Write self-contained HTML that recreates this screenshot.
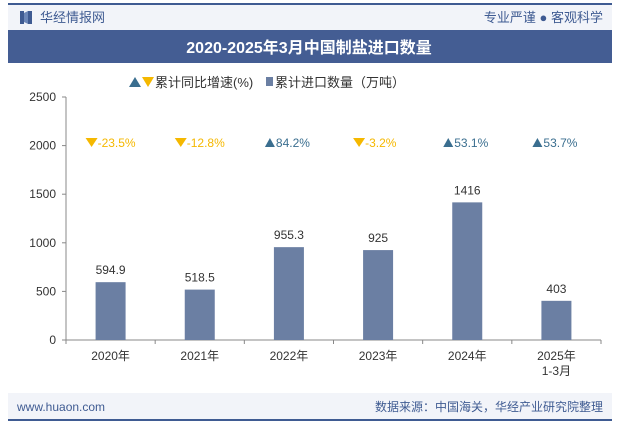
<!DOCTYPE html>
<html><head><meta charset="utf-8"><style>
body{margin:0;width:617px;height:424px;background:#fff;font-family:"Liberation Sans","Noto Sans CJK SC",sans-serif;overflow:hidden}
svg text{font-family:"Liberation Sans","Noto Sans CJK SC",sans-serif}
</style></head><body>
<svg id="c" width="617" height="424">
<rect x="8" y="3" width="604" height="2" fill="#3f5b92"/>
<rect x="8" y="5" width="604" height="25" fill="#f2f4f9"/>
<rect x="20" y="11" width="4" height="13" fill="#3f5b92"/><rect x="28" y="11" width="4" height="13" fill="#3f5b92"/><polygon points="24,13 28,11 28,24 24,22" fill="#6c87b8"/>
<text x="40" y="22" font-size="13" fill="#3f5b92">华经情报网</text>
<text x="603" y="22" font-size="13" fill="#3f5b92" text-anchor="end">专业严谨 ● 客观科学</text>
<rect x="8" y="30" width="604" height="33" fill="#445d93"/>
<text x="309" y="53" font-size="16" font-weight="bold" fill="#fff" text-anchor="middle">2020-2025年3月中国制盐进口数量</text>
<g>
<polygon points="129,87 135,77 141,87" fill="#3a6e8f"/><polygon points="142,77 154,77 148,87" fill="#f5b800"/>
<text x="155" y="87" font-size="13" fill="#333">累计同比增速(%)</text>
<rect x="266" y="77" width="7" height="9" fill="#6b7fa3"/>
<text x="275" y="87" font-size="13" fill="#333">累计进口数量（万吨）</text>
</g>
<g id="plot"></g>
<rect x="8" y="393" width="604" height="26" fill="#f2f4f9"/>
<text x="17" y="411" font-size="12" fill="#3f5b92">www.huaon.com</text>
<text x="603" y="411" font-size="12" fill="#3f5b92" text-anchor="end">数据来源：中国海关，华经产业研究院整理</text>
<rect x="8" y="419" width="604" height="2" fill="#3f5b92"/>
</svg>
<script>
const categories=["2020年","2021年","2022年","2023年","2024年","2025年\n1-3月"];
const volumes=[594.9,518.5,955.3,925,1416,403];
const volumeLabels=["594.9","518.5","955.3","925","1416","403"];
const growth=[-23.5,-12.8,84.2,-3.2,53.1,53.7];
const growthLabels=["-23.5%","-12.8%","84.2%","-3.2%","53.1%","53.7%"];
const yTicks=[0,500,1000,1500,2000,2500];
const NS="http://www.w3.org/2000/svg";
const g=document.getElementById("plot");
const x0=66,x1=601,y0=340,yTop=97,yMax=2500;
const bw=(x1-x0)/categories.length;
const yS=v=>y0-(v/yMax)*(y0-yTop);
const xC=i=>x0+bw*(i+0.5);
function mk(t,a){const e=document.createElementNS(NS,t);for(const k in a)e.setAttribute(k,a[k]);g.appendChild(e);return e;}
let ax=mk("line",{x1:x0,y1:yTop,x2:x0,y2:y0,stroke:"#888"});


let bx=mk("line",{x1:x0,y1:y0,x2:x1,y2:y0,stroke:"#888"});


yTicks.forEach(v=>{
  mk("line",{x1:x0-4,y1:yS(v),x2:x0,y2:yS(v),stroke:"#888"});
  const t=mk("text",{x:x0-10,y:yS(v)+4,"font-size":12,fill:"#333","text-anchor":"end"});t.textContent=v;
  
  
});
for(let i=0;i<=categories.length;i++)mk("line",{x1:x0+bw*i,y1:y0,x2:x0+bw*i,y2:y0+4,stroke:"#888"});
categories.forEach((c,i)=>{
  const cx=xC(i);
  const r=mk("rect",{x:cx-15,y:yS(volumes[i]),width:30,height:y0-yS(volumes[i]),fill:"#6b7fa3"});
  
  
  const vl=mk("text",{x:cx,y:yS(volumes[i])-8,"font-size":12,fill:"#333","text-anchor":"middle"});vl.textContent=volumeLabels[i];
  
  
  c.split("\n").forEach((ln,j)=>{
    const t=mk("text",{x:cx,y:360+j*15,"font-size":12,fill:"#333","text-anchor":"middle"});t.textContent=ln;
    
    
  });
  const up=growth[i]>=0,gy=142;
  const tri=mk("polygon",{points:up?`${cx-24},${gy+5} ${cx-19},${gy-4} ${cx-14},${gy+5}`:`${cx-25},${gy-4} ${cx-13},${gy-4} ${cx-19},${gy+5}`,fill:up?"#3a6e8f":"#f5b800"});
  
  
  const gt=mk("text",{x:cx-13,y:gy+5,"font-size":12,fill:up?"#3a6e8f":"#f5b800"});gt.textContent=growthLabels[i];
  
  
});
</script>
</body></html>
